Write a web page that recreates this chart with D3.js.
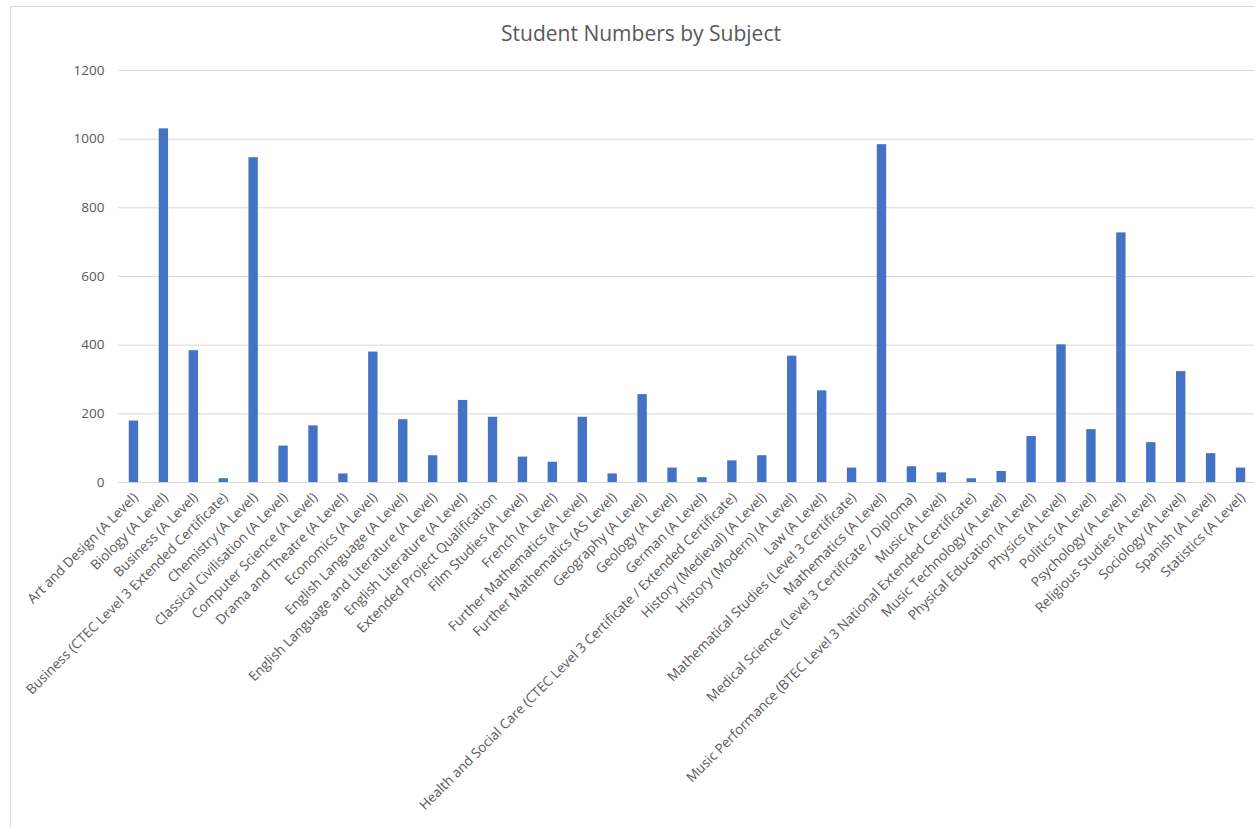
<!DOCTYPE html>
<html>
<head>
<meta charset="utf-8">
<script src="https://cdn.jsdelivr.net/npm/d3@7"></script>
<style>
  body { margin: 0; background: #fff; }
  svg { display: block; font-family: "Open Sans", sans-serif; }
</style>
</head>
<body>
<div id="chart"></div>
<script>
// subjects, in the order shown on the x axis
var subjects = [
  "Art and Design (A Level)",
  "Biology (A Level)",
  "Business (A Level)",
  "Business (CTEC Level 3 Extended Certificate)",
  "Chemistry (A Level)",
  "Classical Civilisation (A Level)",
  "Computer Science (A Level)",
  "Drama and Theatre (A Level)",
  "Economics (A Level)",
  "English Language (A Level)",
  "English Language and Literature (A Level)",
  "English Literature (A Level)",
  "Extended Project Qualification",
  "Film Studies (A Level)",
  "French (A Level)",
  "Further Mathematics (A Level)",
  "Further Mathematics (AS Level)",
  "Geography (A Level)",
  "Geology (A Level)",
  "German (A Level)",
  "Health and Social Care (CTEC Level 3 Certificate / Extended Certificate)",
  "History (Medieval) (A Level)",
  "History (Modern) (A Level)",
  "Law (A Level)",
  "Mathematical Studies (Level 3 Certificate)",
  "Mathematics (A Level)",
  "Medical Science (Level 3 Certificate / Diploma)",
  "Music (A Level)",
  "Music Performance (BTEC Level 3 National Extended Certificate)",
  "Music Technology (A Level)",
  "Physical Education (A Level)",
  "Physics (A Level)",
  "Politics (A Level)",
  "Psychology (A Level)",
  "Religious Studies (A Level)",
  "Sociology (A Level)",
  "Spanish (A Level)",
  "Statistics (A Level)"
];

var students = [
  179, 1030, 384, 11, 946, 106, 165, 25, 380, 183,
  78, 239, 190, 74, 59, 190, 25, 256, 42, 14,
  63, 78, 368, 267, 42, 984, 46, 28, 11, 32,
  134, 401, 154, 727, 116, 323, 84, 42
];

var yTicks = [0, 200, 400, 600, 800, 1000, 1200];

var data = subjects.map(function(s, i) { return {subject: s, n: students[i]}; });

var svgwidth = 1254, svgheight = 827;
var plot = {left: 118.5, right: 1255.5, top: 70, bottom: 482};

var svg = d3.select("#chart").append("svg")
    .attr("width", svgwidth)
    .attr("height", svgheight);

// chart area border (cropped on right and bottom)
svg.append("rect")
    .attr("x", 10.5).attr("y", 6.5)
    .attr("width", 1400).attr("height", 1000)
    .attr("fill", "#fff")
    .attr("stroke", "#d9d9d9");

var x = d3.scaleBand()
    .domain(subjects)
    .range([plot.left, plot.right])
    .paddingInner(0.687)
    .paddingOuter(0.3435);

var y = d3.scaleLinear()
    .domain([0, 1200])
    .range([plot.bottom, plot.top]);

// gridlines + y labels
var yAxis = d3.axisLeft(y)
    .tickValues(yTicks)
    .tickSize(-(plot.right - plot.left))
    .tickPadding(14)
    .tickFormat(d3.format("d"));

var gy = svg.append("g")
    .attr("class", "y axis")
    .attr("transform", "translate(" + plot.left + ",0)")
    .call(yAxis)
    .attr("font-family", "'Open Sans', sans-serif");
gy.select(".domain").remove();
gy.selectAll("line").attr("stroke", "#d9d9d9").attr("stroke-width", 1);
gy.selectAll("text")
    .attr("fill", "#595959")
    .style("font-size", "13.5px");

svg.selectAll(".bar")
    .data(data)
  .enter().append("rect")
    .attr("class", "bar")
    .attr("fill", "#4472c4")
    .attr("x", function(d) { return x(d.subject); })
    .attr("width", x.bandwidth())
    .attr("y", function(d) { return y(d.n); })
    .attr("height", function(d) { return plot.bottom - y(d.n); });

// x axis
var xAxis = d3.axisBottom(x).tickSize(0);
var gx = svg.append("g")
    .attr("class", "x axis")
    .attr("transform", "translate(0," + plot.bottom + ")")
    .call(xAxis)
    .attr("font-family", "'Open Sans', sans-serif");
gx.select(".domain").attr("stroke", "#d9d9d9").attr("d", "M" + plot.left + ",0.5H" + plot.right);
gx.selectAll("text")
    .attr("fill", "#595959")
    .style("font-size", "13.6px")
    .style("text-anchor", "end")
    .attr("y", 0)
    .attr("dy", "0.35em")
    .attr("transform", "translate(2,13) rotate(-45)");

svg.append("text")
    .attr("x", 641)
    .attr("y", 41)
    .attr("text-anchor", "middle")
    .attr("fill", "#595959")
    .style("font-size", "21px")
    .text("Student Numbers by Subject");
</script>
</body>
</html>
